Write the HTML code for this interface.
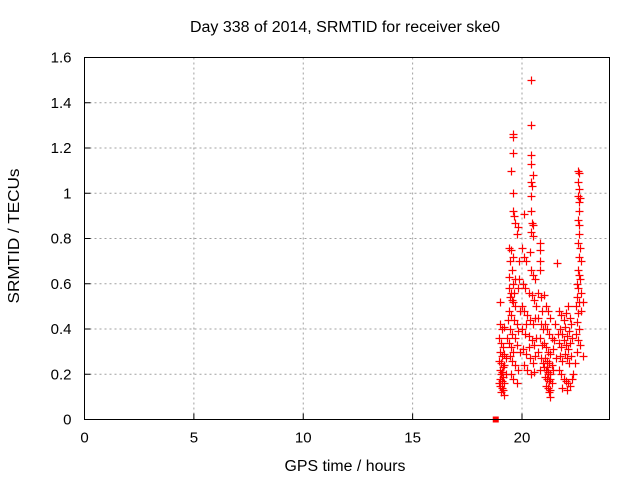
<!DOCTYPE html>
<html><head><meta charset="utf-8"><style>
html,body{margin:0;padding:0;background:#fff;}
svg{display:block;font-family:"Liberation Sans",sans-serif;}
</style></head><body>
<svg id="chart" width="640" height="480" viewBox="0 0 640 480" xmlns="http://www.w3.org/2000/svg">
<rect width="640" height="480" fill="#fff"/>
<text x="345" y="32" font-size="15.5" text-anchor="middle" fill="#000" textLength="310" lengthAdjust="spacingAndGlyphs">Day 338 of 2014, SRMTID for receiver ske0</text>
<text x="345" y="471" font-size="15.5" text-anchor="middle" fill="#000" textLength="121" lengthAdjust="spacingAndGlyphs">GPS time / hours</text>
<text x="19" y="236" font-size="15.5" text-anchor="middle" fill="#000" transform="rotate(-90 19 236)" textLength="135" lengthAdjust="spacingAndGlyphs">SRMTID / TECUs</text>
<g id="grid"></g><g id="ticks"></g><g id="marks"></g>
<rect x="84.5" y="57.5" width="525" height="362" fill="none" stroke="#000" stroke-width="1"/>
</svg>
<script>
const xTicks=[0,5,10,15,20];
const yTicks=[0,0.2,0.4,0.6,0.8,1,1.2,1.4,1.6];
const yTickLabels=["0","0.2","0.4","0.6","0.8","1","1.2","1.4","1.6"];
const xDomain=[0,24];
const yDomain=[0,1.6];
const hours=[19.0,19.1,18.95,19.05,19.15,19.0,19.1,18.95,19.05,19.2,19.0,19.1,19.05,19.15,18.98,19.1,19.2,19.0,19.08,19.15,19.05,19.2,19.12,19.25,19.0,19.2,19.3,19.25,19.18,18.97,
19.4,19.5,19.45,19.6,19.55,19.4,19.6,19.7,19.5,19.45,19.55,19.6,19.7,19.4,19.5,19.65,19.75,19.35,19.45,19.55,19.7,19.8,19.4,19.5,19.6,19.75,19.45,19.55,19.7,19.8,19.6,19.75,19.5,19.58,19.65,19.7,19.8,19.58,19.5,19.58,19.58,19.6,19.75,19.85,19.8,19.9,19.85,19.65,19.4,19.9,
20.43,20.43,20.4,20.4,20.5,20.4,20.45,20.4,20.1,20.43,20.45,20.5,20.43,20.5,20.0,20.1,20.2,20.35,20.4,20.5,20.6,20.05,20.15,20.3,20.45,20.55,20.0,20.1,20.25,20.35,20.5,20.6,20.0,20.15,20.3,20.45,20.55,20.65,20.05,20.2,20.35,20.5,20.6,20.1,20.25,20.4,20.55,20.3,20.2,20.65,
20.84,20.84,20.84,20.84,20.75,20.85,20.9,20.75,20.85,20.95,20.8,20.9,20.75,20.85,20.95,20.8,
21.0,21.1,21.2,21.3,21.05,21.15,21.25,21.35,21.0,21.1,21.2,21.3,21.4,21.05,21.15,21.25,21.35,21.0,21.1,21.2,21.3,21.4,21.05,21.15,21.25,21.35,21.1,21.2,21.3,21.25,21.28,21.2,21.3,21.15,21.45,21.5,21.6,21.55,
21.7,21.8,21.9,22.0,22.1,22.2,21.75,21.85,21.95,22.05,22.15,22.25,21.7,21.8,21.9,22.0,22.1,22.2,22.3,21.75,21.85,21.95,22.05,22.15,22.25,21.7,21.8,21.9,22.0,22.1,22.2,22.3,21.85,22.05,22.35,21.65,22.4,
22.55,22.6,22.55,22.6,22.55,22.65,22.62,22.6,22.55,22.6,22.6,22.55,22.65,22.6,22.7,22.55,22.6,22.5,22.65,22.55,22.7,22.5,22.6,22.45,22.55,22.7,22.5,22.6,22.45,22.55,22.65,22.8,22.5,22.8];
const srmtid=[0.42,0.40,0.36,0.34,0.32,0.30,0.28,0.26,0.25,0.24,0.22,0.21,0.20,0.19,0.18,0.17,0.16,0.15,0.14,0.13,0.12,0.11,0.23,0.27,0.52,0.41,0.36,0.20,0.29,0.16,
0.76,0.75,0.70,0.72,0.66,0.63,0.60,0.62,0.56,0.54,0.53,0.52,0.50,0.48,0.46,0.44,0.42,0.44,0.40,0.38,0.36,0.39,0.34,0.32,0.30,0.33,0.28,0.26,0.24,0.22,0.18,0.16,0.20,0.92,0.90,0.87,0.85,1.00,1.10,1.18,1.25,1.26,0.82,0.70,0.58,0.48,0.62,0.56,0.58,0.30,
1.50,1.30,1.17,1.13,1.08,1.05,1.03,0.99,0.91,0.92,0.87,0.86,0.83,0.81,0.76,0.72,0.70,0.74,0.66,0.64,0.62,0.60,0.58,0.56,0.55,0.53,0.50,0.48,0.46,0.44,0.42,0.45,0.40,0.38,0.37,0.35,0.33,0.36,0.31,0.29,0.27,0.25,0.28,0.24,0.22,0.20,0.21,0.32,0.42,0.50,
0.78,0.75,0.70,0.66,0.56,0.54,0.48,0.45,0.42,0.40,0.36,0.33,0.30,0.27,0.25,0.22,
0.55,0.50,0.48,0.45,0.42,0.40,0.38,0.36,0.34,0.32,0.30,0.29,0.31,0.27,0.26,0.25,0.24,0.23,0.22,0.21,0.20,0.22,0.19,0.18,0.17,0.16,0.15,0.14,0.13,0.12,0.10,0.20,0.18,0.23,0.35,0.42,0.69,0.27,
0.48,0.46,0.44,0.47,0.50,0.45,0.40,0.38,0.41,0.37,0.39,0.42,0.34,0.32,0.35,0.33,0.31,0.34,0.36,0.28,0.26,0.29,0.27,0.25,0.28,0.22,0.20,0.18,0.17,0.16,0.15,0.18,0.14,0.13,0.20,0.38,0.25,
1.10,1.09,1.05,1.02,0.99,0.98,0.96,0.92,0.88,0.86,0.82,0.78,0.76,0.72,0.70,0.66,0.64,0.60,0.62,0.58,0.56,0.54,0.52,0.50,0.47,0.48,0.43,0.40,0.38,0.35,0.33,0.28,0.30,0.52];
const zeroHours=[18.8];
const zeroValues=[0];

const NS="http://www.w3.org/2000/svg";
const L=84.5,R=609.5,T=57.5,B=419.5;
function sx(v){return L+(v-xDomain[0])/(xDomain[1]-xDomain[0])*(R-L);}
function sy(v){return B-(v-yDomain[0])/(yDomain[1]-yDomain[0])*(B-T);}
function mk(tag,attrs,parent){const e=document.createElementNS(NS,tag);for(const k in attrs)e.setAttribute(k,attrs[k]);parent.appendChild(e);return e;}
const grid=document.getElementById('grid'),ticks=document.getElementById('ticks'),marks=document.getElementById('marks');
xTicks.forEach((t,i)=>{
  const x=sx(t);
  if(i>0){const g=mk('line',{x1:x,x2:x,y1:T,y2:B,stroke:'#a0a0a0','stroke-dasharray':'2,3'},grid);
  
  }
  const tk=mk('line',{x1:x,x2:x,y1:B,y2:B-6,stroke:'#000'},ticks);
  
  
  const tx=mk('text',{x:x,y:B+23,'font-size':15,'text-anchor':'middle',fill:'#000'},ticks);
  tx.textContent=String(t);
  
  
});
yTicks.forEach((t,i)=>{
  const y=sy(t);
  if(i>0&&i<yTicks.length-1){const g=mk('line',{x1:L,x2:R,y1:y,y2:y,stroke:'#a0a0a0','stroke-dasharray':'2,3'},grid);
  
  }
  const tk=mk('line',{x1:L,x2:L+6,y1:y,y2:y,stroke:'#000'},ticks);
  
  
  const tx=mk('text',{x:L-13,y:y+5,'font-size':15,'text-anchor':'end',fill:'#000'},ticks);
  tx.textContent=yTickLabels[i];
  
  
});
hours.forEach((h,i)=>{
  const x=Math.round(sx(h))+0.5,y=Math.round(sy(srmtid[i]))+0.5;
  const p=mk('path',{d:`M${x-4},${y}H${x+4}M${x},${y-4}V${y+4}`,stroke:'#ff0000','stroke-width':1.2,fill:'none'},marks);
  
  
});
zeroHours.forEach((h,i)=>{
  const x=sx(h),y=sy(zeroValues[i]);
  const r=mk('rect',{x:x-3,y:y-3,width:6,height:6,fill:'#ff0000'},marks);
  
  
});
</script>
</body></html>
